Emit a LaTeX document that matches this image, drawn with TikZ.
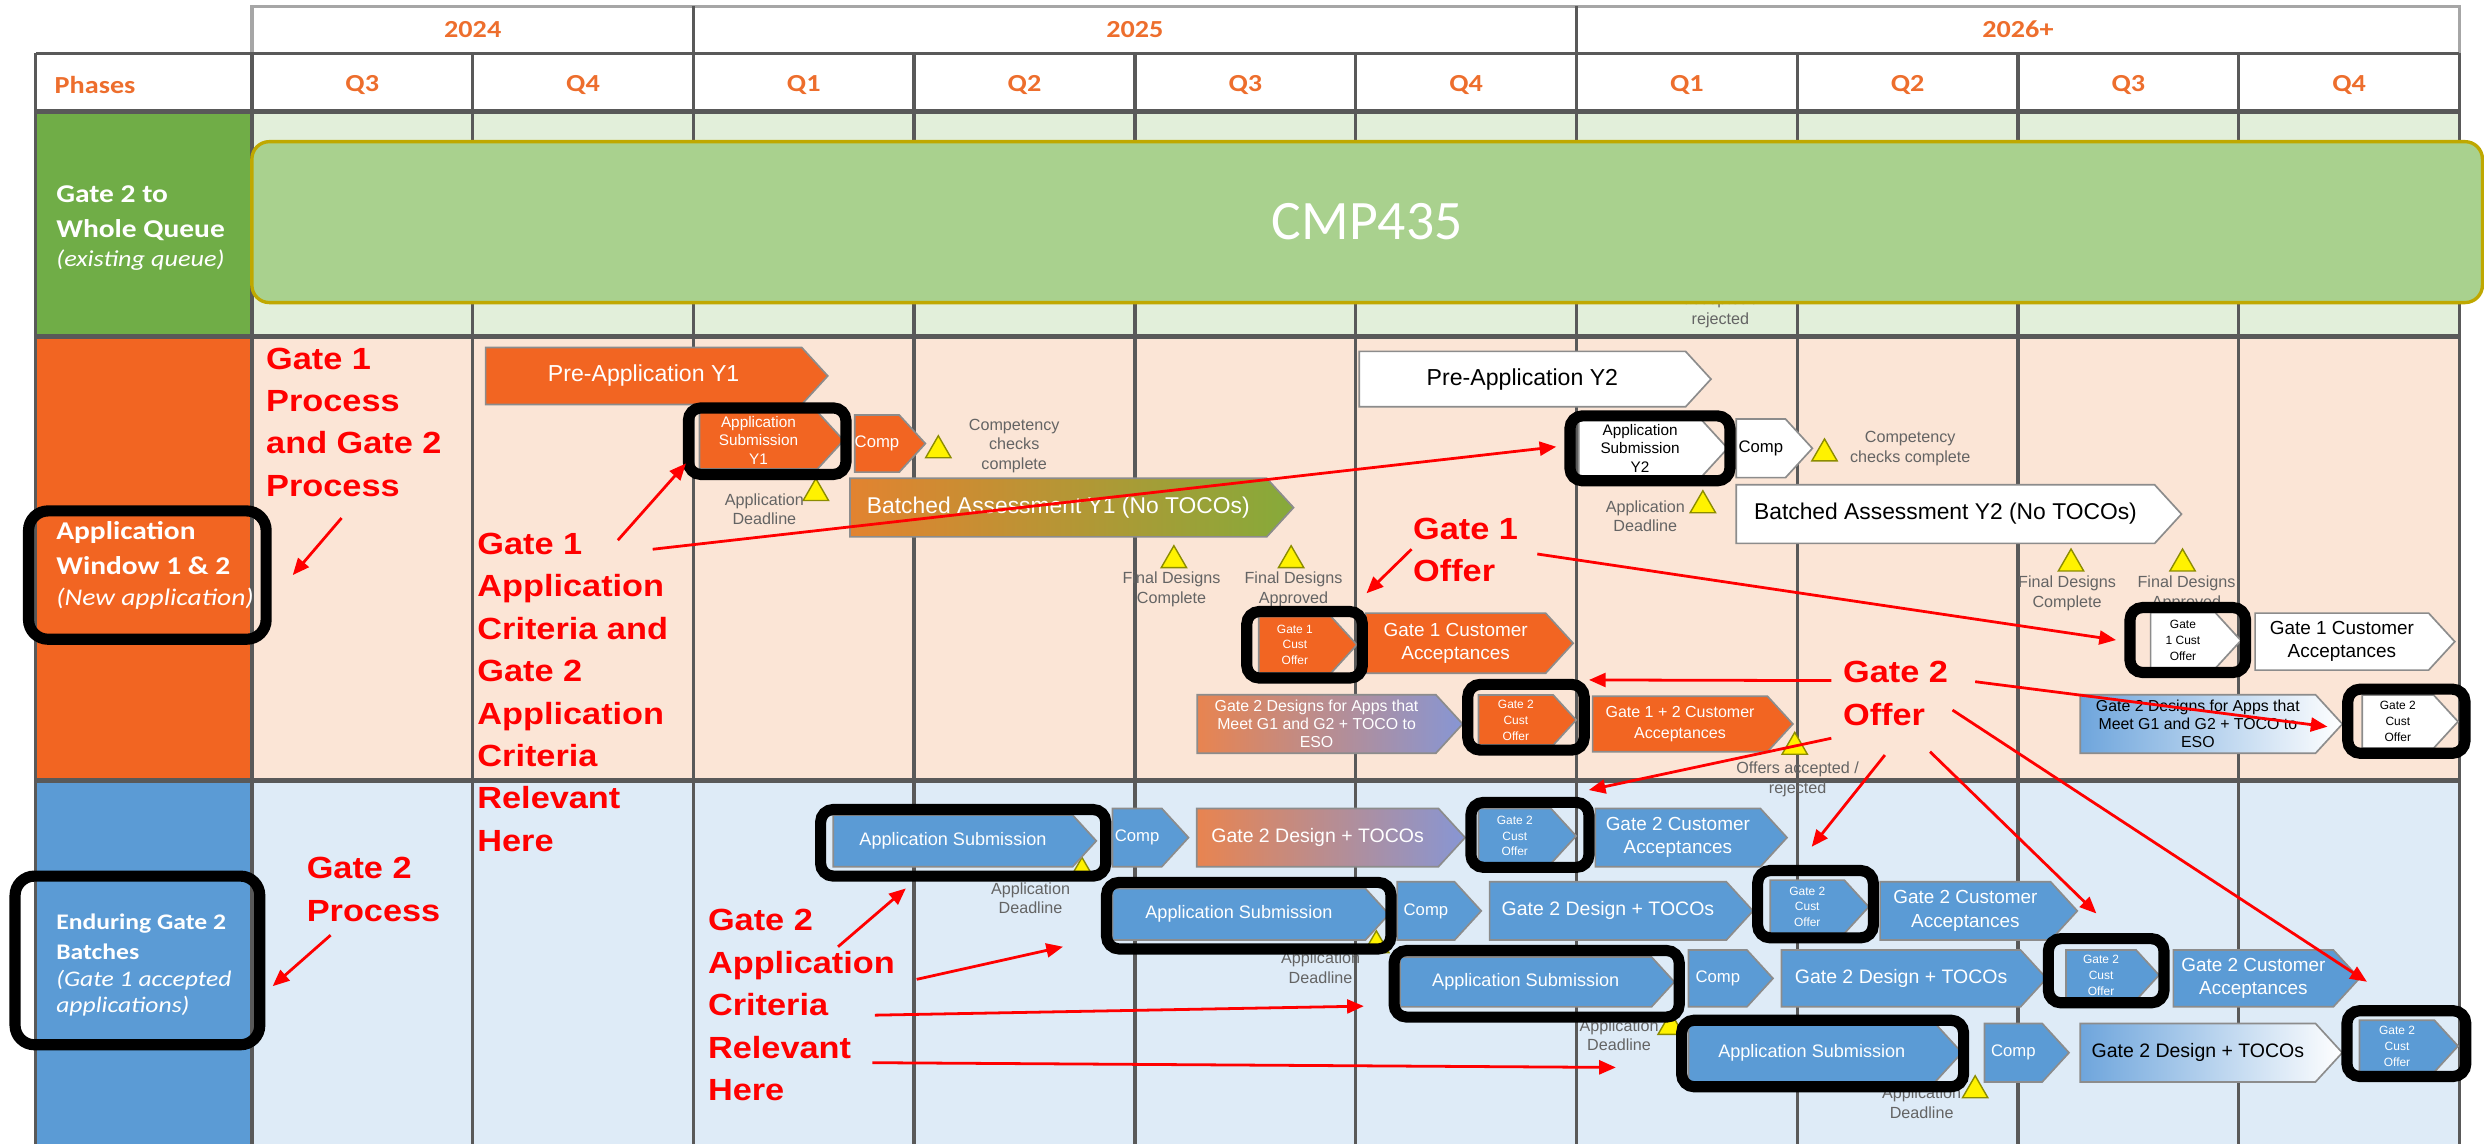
\documentclass[tikz,border=0pt]{standalone}
\usepackage{fontspec}
\setmainfont{Liberation Sans}
\newfontfamily\hdrfont[FakeStretch=1.15]{Carlito}
\newfontfamily\cmpfont{Carlito}
\newfontfamily\annfont[FakeStretch=1.12]{Liberation Sans}
\usetikzlibrary{shapes.symbols,shapes.geometric,arrows.meta}

\definecolor{ofill}{RGB}{242,101,34}
\definecolor{peach}{RGB}{251,229,214}
\definecolor{lgreen}{RGB}{226,239,218}
\definecolor{lblue}{RGB}{222,235,247}
\definecolor{pgreen}{RGB}{112,173,71}
\definecolor{pblue}{RGB}{91,155,213}
\definecolor{cmpfill}{RGB}{169,209,142}
\definecolor{cmpline}{RGB}{191,168,0}
\definecolor{gridgray}{RGB}{89,89,89}
\definecolor{msgray}{RGB}{100,100,100}
\definecolor{annred}{RGB}{255,0,0}
\definecolor{hdrorange}{RGB}{237,110,45}
\definecolor{triline}{RGB}{140,140,0}
\definecolor{baleft}{RGB}{226,131,48}
\definecolor{baright}{RGB}{134,170,58}
\definecolor{gdleft}{RGB}{232,132,80}
\definecolor{gdmid}{RGB}{205,138,160}
\definecolor{gdright}{RGB}{135,150,212}
\definecolor{bwleft}{RGB}{110,165,220}

\newcommand{\fsz}[2]{\fontsize{#1}{#2}\selectfont}

\tikzset{
  sz/.style 2 args={minimum width=#1*0.2mm, minimum height=#2*0.2mm},
  chev/.style={signal, signal to=east, signal pointer angle=95, draw=black!45,
    line width=0.6pt, inner sep=0pt, align=center, anchor=west},
  och/.style={chev, fill=ofill, text=white},
  wch/.style={chev, fill=white, text=black},
  bch/.style={chev, fill=pblue, text=white},
  tri/.style={regular polygon, regular polygon sides=3, fill=yellow, draw=triline,
    line width=0.5pt, minimum size=3.7mm, inner sep=0pt},
  mstext/.style={text=msgray, align=center, inner sep=0pt, font=\fsz{5.8}{7}},
  hlbox/.style={draw=black, line width=4pt, rounded corners=4.5pt},
  ann/.style={text=annred, align=left, anchor=west, inner sep=0pt,
    font=\annfont\bfseries\fsz{11}{15.25}},
  annarrow/.style={draw=annred, line width=1pt, -{Triangle[length=6pt,width=5pt]}},
  gridline/.style={draw=gridgray, line width=1.2pt},
  hdr/.style={text=hdrorange, inner sep=0pt, font=\hdrfont\bfseries\fsz{8.8}{10}},
  phase/.style={text=white, anchor=west, align=left, inner sep=0pt,
    font=\hdrfont\fsz{9.2}{12.6}},
}

\begin{document}
\begin{tikzpicture}[x=0.2mm, y=-0.2mm]
\useasboundingbox (0,0) rectangle (1568,722);

% rows
\fill[lgreen] (159,70.5) rectangle (1552.5,212.5);
\fill[peach] (159,212.5) rectangle (1552.5,492.8);
\fill[lblue] (159,492.8) rectangle (1552.5,722);
\fill[pgreen] (22.6,70.5) rectangle (159,212.5);
\fill[ofill] (22.6,212.5) rectangle (159,492.8);
\fill[pblue] (22.6,492.8) rectangle (159,722);

% grid
\draw[gridline, draw=black!35] (159,4) rectangle (1552.5,33.7);
\draw[gridline] (437.7,4) -- (437.7,33.7) (995.1,4) -- (995.1,33.7);
\draw[gridline] (22.6,33.7) -- (1552.5,33.7);
\foreach \k in {0,...,10}
  \draw[gridline] ({159+139.35*\k},33.7) -- ({159+139.35*\k},722);
\draw[gridline] (22.6,33.7) -- (22.6,722);
\draw[gridline, line width=2pt] (22.6,70.5) -- (1552.5,70.5)
  (22.6,212.5) -- (1552.5,212.5) (22.6,492.8) -- (1552.5,492.8);

% header
\node[hdr] (yr24) at (298.4,18.5) {2024};
\node[hdr] (yr25) at (716.4,18.5) {2025};
\node[hdr] (yr26) at (1273.8,18.5) {2026+};
\node[hdr, anchor=west] (phases) at (34.2,53.7) {Phases};
\foreach \q [count=\k from 0] in {Q3,Q4,Q1,Q2,Q3,Q4,Q1,Q2,Q3,Q4}
  \node[hdr] (q\k) at ({159+139.35*(\k+0.5)},53.7) {\q};

% phases
\node[phase] (ph1) at (35.2,144) {\bfseries Gate 2 to\\\bfseries Whole Queue\\[-2pt]\itshape\fsz{8.2}{10}(existing queue)};
\node[phase] (ph2) at (35.2,357) {\bfseries Application\\\bfseries Window 1 \& 2\\[-1.5pt]\itshape\fsz{8.6}{10}(New application)};
\node[phase, font=\hdrfont\fsz{8}{11}] (ph3) at (35.2,609) {\bfseries Enduring Gate 2\\\bfseries Batches\\[-1.5pt]\itshape (Gate 1 accepted\\[-1.5pt]\itshape applications)};

% existing queue
\node[mstext] (hidden) at (1086,196) {accepted /\\rejected};
\node[draw=cmpline, fill=cmpfill, line width=1.2pt, rounded corners=2.2mm, sz={1408}{101.6},
  text=white, font=\cmpfont\fsz{20}{24}] (cmp) at (863,140.2) {CMP435};

% milestones
\node[tri] (t1) at (592.3,284.3) {};
\node[mstext] (t1l) at (640.2,281.5) {Competency\\checks\\complete};
\node[tri] (t2) at (515,311.3) {};
\node[mstext] (t2l) at (482.5,321.4) {Application\\Deadline};
\node[tri] (t3) at (741,353.7) {};
\node[mstext] (t3l) at (739.5,372) {Final Designs\\Complete};
\node[tri] (t4) at (815,353.7) {};
\node[mstext] (t4l) at (816.5,372) {Final Designs\\Approved};
\node[tri] (t5) at (1132.9,471.5) {};
\node[mstext] (t5l) at (1134.7,492) {Offers accepted /\\rejected};
\node[tri] (t6) at (1151.7,286.3) {};
\node[mstext] (t6l) at (1205.8,283) {Competency\\checks complete};
\node[tri] (t7) at (1074.9,319) {};
\node[mstext] (t7l) at (1038.6,326) {Application\\Deadline};
\node[tri] (t8) at (1307.3,355.8) {};
\node[mstext] (t8l) at (1304.8,374.5) {Final Designs\\Complete};
\node[tri] (t9) at (1377.7,355.8) {};
\node[mstext] (t9l) at (1380.2,374.5) {Final Designs\\Approved};
\node[tri] (t10) at (683,550.5) {};
\node[mstext] (t10l) at (650.5,567) {Application\\Deadline};
\node[tri] (t11) at (868.8,596.8) {};
\node[mstext] (t11l) at (833.6,611) {Application\\Deadline};
\node[tri] (t12) at (1054.6,648.3) {};
\node[mstext] (t12l) at (1022,653.5) {Application\\Deadline};
\node[tri] (t13) at (1246.8,688.3) {};
\node[mstext] (t13l) at (1213,696) {Application\\Deadline};

% window 1
\node[och, sz={216}{36}, font=\fsz{8.3}{10}] (pa1) at (306,237.3) {Pre-Application Y1};
\node[och, sz={91}{36}, font=\fsz{5.5}{6.6}] (as1) at (441,278) {Application\\Submission\\Y1};
\node[och, sz={40}{36}, font=\fsz{6}{7}] (cp1) at (539,280) {Comp};
\node[chev, sz={280}{37}, left color=baleft, right color=baright, text=white,
  font=\fsz{8.2}{10}] (ba1) at (536,320.4) {Batched Assessment Y1 (No TOCOs)};
\node[och, sz={62}{35.5}, font=\fsz{4.3}{5.7}] (go1) at (794,407) {Gate 1\\Cust\\Offer};
\node[och, sz={131}{38}, font=\fsz{6.8}{8.4}] (ca1) at (861.5,406) {Gate 1 Customer\\Acceptances};
\node[chev, sz={167.5}{37}, left color=gdleft, middle color=gdmid, right color=gdright,
  text=white, font=\fsz{5.7}{6.5}] (gd1) at (755.25,457) {Gate 2 Designs for Apps that\\Meet G1 and G2 + TOCO to\\ESO};
\node[och, sz={61.6}{31.6}, font=\fsz{4.3}{5.7}] (gc1) at (932.8,454.5) {Gate 2\\Cust\\Offer};
\node[och, sz={126.4}{35}, font=\fsz{5.75}{7.5}] (gca) at (1004.8,457) {Gate 1 + 2 Customer\\Acceptances};

% window 2
\node[wch, sz={222}{35}, font=\fsz{8.3}{10}] (pa2) at (857.5,239.3) {Pre-Application Y2};
\node[wch, sz={94}{36}, font=\fsz{5.5}{6.6}] (as2) at (996,283) {Application\\Submission\\Y2};
\node[wch, sz={48}{37}, font=\fsz{6}{7}] (cp2) at (1095.5,283) {Comp};
\node[wch, sz={281}{37}, font=\fsz{8.2}{10}] (ba2) at (1095.5,324.5) {Batched Assessment Y2 (No TOCOs)};
\node[wch, sz={57}{35.2}, font=\fsz{4.3}{5.7}] (go2) at (1357,404.3) {Gate\\1 Cust\\Offer};
\node[wch, sz={126}{36}, font=\fsz{6.8}{8.4}] (ca2) at (1423,405) {Gate 1 Customer\\Acceptances};
\node[chev, sz={165.5}{37}, left color=bwleft, right color=white, text=black,
  font=\fsz{5.7}{6.5}] (gd2) at (1312.55,457) {Gate 2 Designs for Apps that\\Meet G1 and G2 + TOCO to\\ESO};
\node[wch, sz={60.5}{33.7}, font=\fsz{4.3}{5.7}] (gc2) at (1490.55,455.5) {Gate 2\\Cust\\Offer};

% enduring batches
\node[bch, sz={166}{32.6}, font=\fsz{6.5}{8}] (b1as) at (525.5,530.8) {Application Submission};
\node[bch, sz={48}{36.8}, font=\fsz{6}{7}] (b1cp) at (701.7,528.7) {Comp};
\node[chev, sz={169.4}{36.8}, left color=gdleft, middle color=gdmid, right color=gdright,
  text=white, font=\fsz{7}{8.4}] (b1gd) at (754.9,528.7) {Gate 2 Design + TOCOs};
\node[bch, sz={61.6}{34.7}, font=\fsz{4.3}{5.7}] (b1gc) at (932.8,527.7) {Gate 2\\Cust\\Offer};
\node[bch, sz={121}{36.8}, font=\fsz{6.8}{8.4}] (b1ca) at (1006.5,528.7) {Gate 2 Customer\\Acceptances};

\node[bch, sz={174.5}{32.6}, font=\fsz{6.5}{8}] (b2as) at (701.75,577.1) {Application Submission};
\node[bch, sz={53}{36.8}, font=\fsz{6}{7}] (b2cp) at (881.5,575) {Comp};
\node[bch, sz={166.3}{36.8}, font=\fsz{7}{8.4}] (b2gd) at (939.75,575) {Gate 2 Design + TOCOs};
\node[bch, sz={62.2}{33.7}, font=\fsz{4.3}{5.7}] (b2gc) at (1116.9,572.4) {Gate 2\\Cust\\Offer};
\node[bch, sz={124.5}{36.8}, font=\fsz{6.8}{8.4}] (b2ca) at (1186.25,575) {Gate 2 Customer\\Acceptances};

\node[bch, sz={173.2}{31.5}, font=\fsz{6.5}{8}] (b3as) at (883.2,619.8) {Application Submission};
\node[bch, sz={53.3}{35.8}, font=\fsz{6}{7}] (b3cp) at (1065.35,617.6) {Comp};
\node[bch, sz={167.3}{35.8}, font=\fsz{7}{8.4}] (b3gd) at (1124.05,617.6) {Gate 2 Design + TOCOs};
\node[bch, sz={58.7}{31.6}, font=\fsz{4.3}{5.7}] (b3gc) at (1303.65,615.5) {Gate 2\\Cust\\Offer};
\node[bch, sz={117.4}{35.8}, font=\fsz{6.8}{8.4}] (b3ca) at (1371.4,617.6) {Gate 2 Customer\\Acceptances};

\node[bch, sz={172.6}{36.9}, font=\fsz{6.5}{8}] (b4as) at (1065.3,664.5) {Application Submission};
\node[bch, sz={53.4}{36.9}, font=\fsz{6}{7}] (b4cp) at (1252.1,664.5) {Comp};
\node[chev, sz={165.4}{36.9}, left color=bwleft, right color=white, text=black,
  font=\fsz{7}{8.4}] (b4gd) at (1312.6,664.5) {Gate 2 Design + TOCOs};
\node[bch, sz={62.2}{32.5}, font=\fsz{4.3}{5.7}] (b4gc) at (1488.9,660.3) {Gate 2\\Cust\\Offer};

% highlight boxes
\node[hlbox, rounded corners=7pt, sz={150}{81}] (hlwin) at (93,363) {};
\node[hlbox, rounded corners=7pt, sz={154.5}{106.5}] (hlend) at (86.75,606.25) {};
\node[hlbox, sz={99.5}{42}] (hlas1) at (484.25,278.5) {};
\node[hlbox, sz={73}{42}] (hlgo1) at (823.5,407) {};
\node[hlbox, sz={73.5}{41.5}] (hlgc1) at (963.25,452.75) {};
\node[hlbox, sz={101}{41}] (hlas2) at (1041.5,283) {};
\node[hlbox, sz={73}{41}] (hlgo2) at (1381,404) {};
\node[hlbox, sz={74}{40.5}] (hlgc2) at (1519,455.25) {};
\node[hlbox, sz={180}{42}] (hlb1as) at (608,532) {};
\node[hlbox, sz={74.5}{41}] (hlb1gc) at (965.75,527) {};
\node[hlbox, sz={179.5}{42}] (hlb2as) at (788.25,578) {};
\node[hlbox, sz={73}{42.5}] (hlb2gc) at (1146,570.75) {};
\node[hlbox, sz={180}{42}] (hlb3as) at (970,621) {};
\node[hlbox, sz={73}{40.5}] (hlb3gc) at (1329.5,612.75) {};
\node[hlbox, sz={178}{42}] (hlb4as) at (1150.5,665) {};
\node[hlbox, sz={75}{41.5}] (hlb4gc) at (1519,658.75) {};

% annotations
\node[ann] (nproc) at (167.7,266.5) {Gate 1\\Process\\and Gate 2\\Process};
\node[ann] (ncrit) at (301,437) {Gate 1\\Application\\Criteria and\\Gate 2\\Application\\Criteria\\Relevant\\Here};
\node[ann] (noff1) at (891.7,347) {Gate 1\\Offer};
\node[ann] (noff2) at (1163.1,437.7) {Gate 2\\Offer};
\node[ann] (nproc2) at (193.3,561.4) {Gate 2\\Process};
\node[ann] (ncrit2) at (446.6,634.5) {Gate 2\\Application\\Criteria\\Relevant\\Here};

\coordinate (a1s) at (215.6,327);   \coordinate (a1e) at (184.8,363);
\coordinate (a2s) at (390,341);     \coordinate (a2e) at (433,292.5);
\coordinate (a3s) at (412,346.7);   \coordinate (a3e) at (982.4,282);
\coordinate (a4s) at (891,346.7);   \coordinate (a4e) at (862.6,374.5);
\coordinate (a5s) at (970.4,349.7); \coordinate (a5e) at (1335.7,404);
\coordinate (a6s) at (1156,429.6);  \coordinate (a6e) at (1003,429.2);
\coordinate (a7s) at (1246.8,430.3); \coordinate (a7e) at (1469.2,458.7);
\coordinate (a8s) at (1156,466);    \coordinate (a8e) at (1002.9,498.7);
\coordinate (a9s) at (1189.8,476.6); \coordinate (a9e) at (1143.6,534.5);
\coordinate (a10s) at (1218.3,474.5); \coordinate (a10e) at (1323.3,576.6);
\coordinate (a11s) at (1232.5,448.2); \coordinate (a11e) at (1494.1,619.7);
\coordinate (a12s) at (208.7,590.3); \coordinate (a12e) at (172.1,622.5);
\coordinate (a13s) at (529,597.6);  \coordinate (a13e) at (571.8,560.8);
\coordinate (a14s) at (578.6,618.2); \coordinate (a14e) at (671,597.6);
\coordinate (a15s) at (552.3,640.8); \coordinate (a15e) at (860.9,635.1);
\coordinate (a16s) at (550.6,670.8); \coordinate (a16e) at (1020,673.8);

\foreach \i in {1,...,16}
  \draw[annarrow] (a\i s) -- (a\i e);

\end{tikzpicture}
\end{document}
